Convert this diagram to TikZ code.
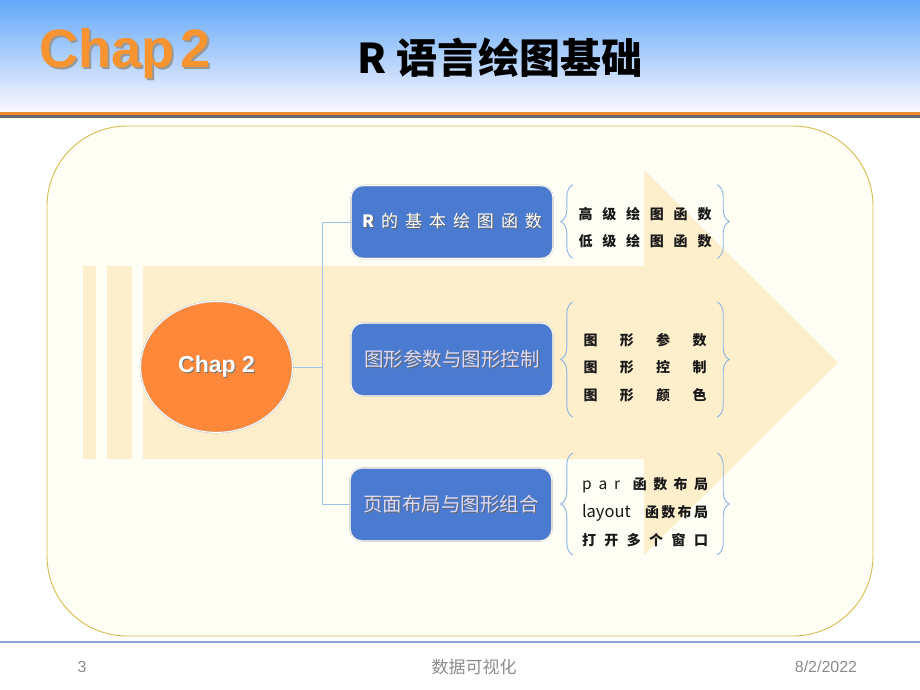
\documentclass[tikz,border=0pt]{standalone}
\usepackage{fontspec}
\setmainfont{Liberation Sans}
\newfontfamily\cjk{Noto Sans CJK SC}
\usetikzlibrary{positioning, shapes.geometric, decorations.pathreplacing}

\definecolor{skytop}{HTML}{62A8F8}
\definecolor{skymid}{HTML}{A6D5FF}
\definecolor{skylow}{HTML}{FBF7FF}
\definecolor{chaporange}{HTML}{F7942F}
\definecolor{ruleorange}{HTML}{EE8A2C}
\definecolor{rulegray}{HTML}{66666C}
\definecolor{panelfill}{HTML}{FFFEF5}
\definecolor{paneledge}{HTML}{D6BC4E}
\definecolor{arrowfill}{HTML}{FDEFCB}
\definecolor{topicorange}{HTML}{FD883A}
\definecolor{boxblue}{HTML}{4A7BD0}
\definecolor{linkblue}{HTML}{9DC3E6}
\definecolor{bracelue}{HTML}{8AB4E2}
\definecolor{footgray}{HTML}{8C8C8C}
\definecolor{footline}{HTML}{8AA8D8}

% text with a small drop shadow
\newcommand{\shadowed}[3][1pt]{\makebox[0pt][l]{\kern#1\raisebox{-#1}{\textcolor{#2}{#3}}}#3}

\tikzset{
  topic/.style={ellipse, fill=topicorange, draw=black!22, double=white, double distance=0.8pt,
    minimum width=152pt, minimum height=131pt, text=white, font=\bfseries\fontsize{23}{26}\selectfont},
  branch/.style={rectangle, rounded corners=12pt, fill=boxblue, draw=black!22, double=white,
    double distance=0.8pt, minimum width=202pt, minimum height=73pt, text=white,
    font=\cjk\fontsize{17}{20}\selectfont},
  leaves/.style={minimum width=144pt, align=center, text=black!90,
    font=\cjk\bfseries\fontsize{14}{27.5}\selectfont},
  link/.style={draw=linkblue, line width=0.9pt},
  curly/.style={draw=bracelue, line width=0.9pt, decorate, decoration={brace, amplitude=12pt}},
  foot/.style={text=footgray, font=\fontsize{16}{18}\selectfont},
}

\begin{document}
\begin{tikzpicture}[x=1pt, y=-1pt]
  \useasboundingbox (0,0) rectangle (920,690);
  \fill[white] (0,0) rectangle (920,690);

  % header
  \shade[top color=skytop, middle color=skymid, bottom color=skylow] (0,0) rectangle (920,112);
  \fill[ruleorange] (0,112) rectangle (920,115.5);
  \fill[rulegray] (0,115.5) rectangle (920,118.5);
  \node[text=chaporange, font=\bfseries\fontsize{54}{60}\selectfont] (chapter) at (125,55)
    {\shadowed[2pt]{black!40}{Chap\hspace{6pt}2}};
  \node[font=\cjk\bfseries\fontsize{41}{48}\selectfont] (title) at (500,58) {R 语言绘图基础};

  % panel and arrow
  \draw[paneledge, line width=0.9pt, fill=panelfill, rounded corners=80pt] (47,126) rectangle (873,636);
  \fill[arrowfill] (83,266) rectangle (96,459);
  \fill[arrowfill] (107,266) rectangle (132,459);
  \fill[arrowfill] (143,266) -- (644,266) -- (644,170) -- (838,362.5) -- (644,555)
    -- (644,459) -- (143,459) -- cycle;

  % mind map
  \node[topic] (chap) at (216.5,367) {\shadowed{black!55}{Chap 2}};
  \node[branch] (basic) at (452,222)
    {\shadowed{black!60}{\makebox[180pt][s]{\textbf{R} 的 基 本 绘 图 函 数}}};
  \node[branch, text=white!86!blue, font=\cjk\fontsize{19.5}{22}\selectfont] (param) at (452,359.5)
    {\shadowed{black!60}{图形参数与图形控制}};
  \node[branch, text=white!86!blue, font=\cjk\fontsize{19.5}{22}\selectfont] (layout) at (451,504.5)
    {\shadowed{black!60}{页面布局与图形组合}};

  \coordinate (hub) at (322,367);
  \draw[link] (chap.east) -- (hub);
  \draw[link] (hub) |- (basic.west);
  \draw[link] (hub) |- (layout.west);

  \node[leaves] (basiclist) at (645,227.5)
    {\makebox[133pt][s]{高 级 绘 图 函 数}\\ \makebox[133pt][s]{低 级 绘 图 函 数}};
  \node[leaves] (paramlist) at (645,367.5)
    {\makebox[123pt][s]{图 形 参 数}\\ \makebox[123pt][s]{图 形 控 制}\\ \makebox[123pt][s]{图 形 颜 色}};
  \node[leaves, font=\cjk\bfseries\fontsize{14}{28}\selectfont] (layoutlist) at (645,512)
    {\makebox[126pt][s]{{\mdseries\fontsize{15.5}{28}\selectfont p a r} \ 函 数 布 局}\\
     \makebox[126pt][s]{{\mdseries\fontsize{16.5}{28}\selectfont layout} 函\,数\,布\,局}\\
     \makebox[126pt][s]{打 开 多 个 窗 口}};

  \draw[curly] ([yshift=-6.7pt]basiclist.south west) -- ([yshift=18.7pt]basiclist.north west);
  \draw[curly] ([yshift=18.7pt]basiclist.north east) -- ([yshift=-6.7pt]basiclist.south east);
  \draw[curly] ([yshift=-11.7pt]paramlist.south west) -- ([yshift=27.7pt]paramlist.north west);
  \draw[curly] ([yshift=27.7pt]paramlist.north east) -- ([yshift=-11.7pt]paramlist.south east);
  \draw[curly] ([yshift=-4.7pt]layoutlist.south west) -- ([yshift=20.7pt]layoutlist.north west);
  \draw[curly] ([yshift=20.7pt]layoutlist.north east) -- ([yshift=-4.7pt]layoutlist.south east);

  % footer
  \draw[footline, line width=1.5pt] (0,642) -- (920,642);
  \node[foot] (page) at (82,667) {3};
  \node[foot, font=\cjk\fontsize{17}{18}\selectfont] (course) at (474,667) {数据可视化};
  \node[foot] (date) at (826,667) {8/2/2022};
\end{tikzpicture}
\end{document}
